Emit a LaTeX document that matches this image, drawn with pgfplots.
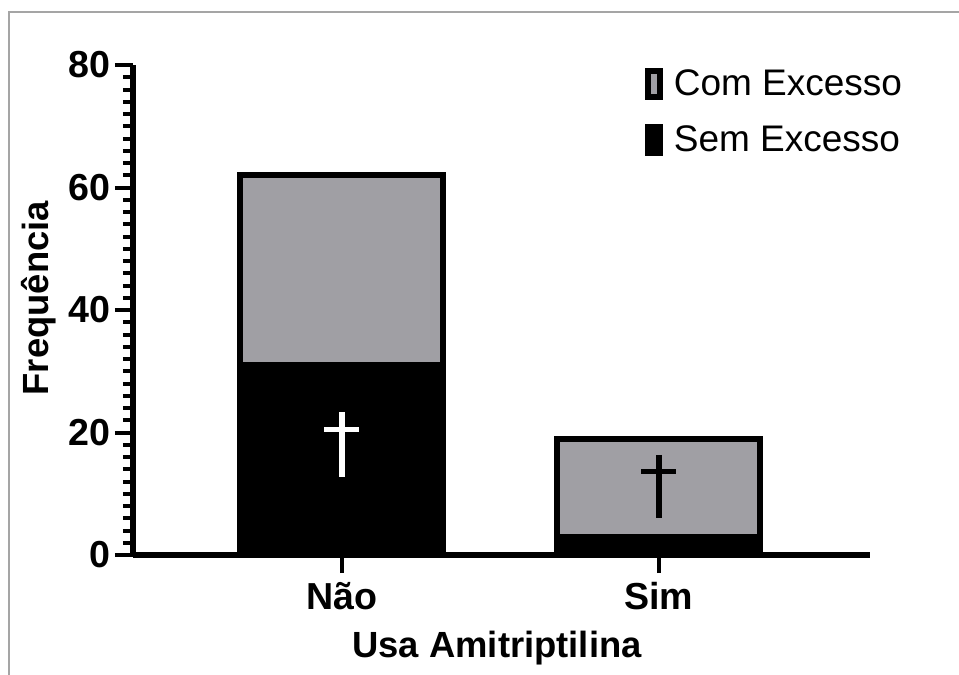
\documentclass[border=0pt]{standalone}
\usepackage{fontspec}
\setmainfont{Liberation Sans}
\usepackage{pgfplots}
\pgfplotsset{compat=1.18}
\definecolor{barGray}{RGB}{160,159,164}
\definecolor{frameGray}{RGB}{165,165,165}
\begin{document}
\begin{tikzpicture}
\useasboundingbox (0,0) rectangle (479.5pt,337.5pt);
\draw[frameGray, line width=0.6pt] (4.5pt,0) -- (4.5pt,331.5pt) -- (479.5pt,331.5pt);
\begin{axis}[
  at={(66.5pt,60pt)}, anchor=south west,
  scale only axis, width=368.5pt, height=245pt,
  xmin=-0.659, xmax=1.666, ymin=0, ymax=80,
  axis x line=bottom, axis y line=left,
  axis line style={-, line width=3pt},
  ytick={0,20,...,80}, minor y tick num=9,
  xtick={0,1}, xticklabels={Não,Sim},
  tick align=outside,
  major tick length=9pt, minor tick length=5pt,
  every tick/.style={black, line width=2pt},
  ticklabel style={font=\fontsize{18.8}{20}\selectfont\bfseries},
  xticklabel style={yshift=-1pt},
  yticklabel style={xshift=1pt},
  /pgf/number format/assume math mode=true,
  xlabel={Usa Amitriptilina}, ylabel={Frequência},
  label style={font=\fontsize{18.2}{20}\selectfont\bfseries},
  xlabel style={at={(axis description cs:0.494,-0.19)}, anchor=center},
  ylabel style={at={(axis description cs:-0.128,0.524)}, anchor=center},
  ybar stacked, bar width=101.5pt,
  area legend, reverse legend,
  legend image code/.code={\draw[#1] (0pt,-6.5pt) rectangle (6pt,6.5pt);},
  legend style={draw=none, fill=none, at={(0.694,1.0)}, anchor=north west,
    font=\fontsize{18.5}{20}\selectfont, legend cell align=left, row sep=9.5pt,
    inner sep=0pt},
]
\addplot[fill=black, draw=black, line width=3pt] coordinates {(0,31) (1,3)};
\addlegendentry{\hspace{3.5pt}Sem Excesso}
\addplot[fill=barGray, draw=black, line width=3pt] coordinates {(0,31) (1,16)};
\addlegendentry{\hspace{3.5pt}Com Excesso}
\coordinate (d1) at (axis cs:0,23.35);
\coordinate (d2) at (axis cs:1,16.33);
\end{axis}
% dagger annotations
\draw[white, line width=3pt] (d1) -- ++(0,-32.5pt);
\draw[white, line width=2.5pt] (d1) ++(-8.75pt,-9pt) -- ++(17.5pt,0);
\draw[black, line width=3pt] (d2) -- ++(0,-31.5pt);
\draw[black, line width=2.5pt] (d2) ++(-8.75pt,-8.5pt) -- ++(17.5pt,0);
\end{tikzpicture}
\end{document}
